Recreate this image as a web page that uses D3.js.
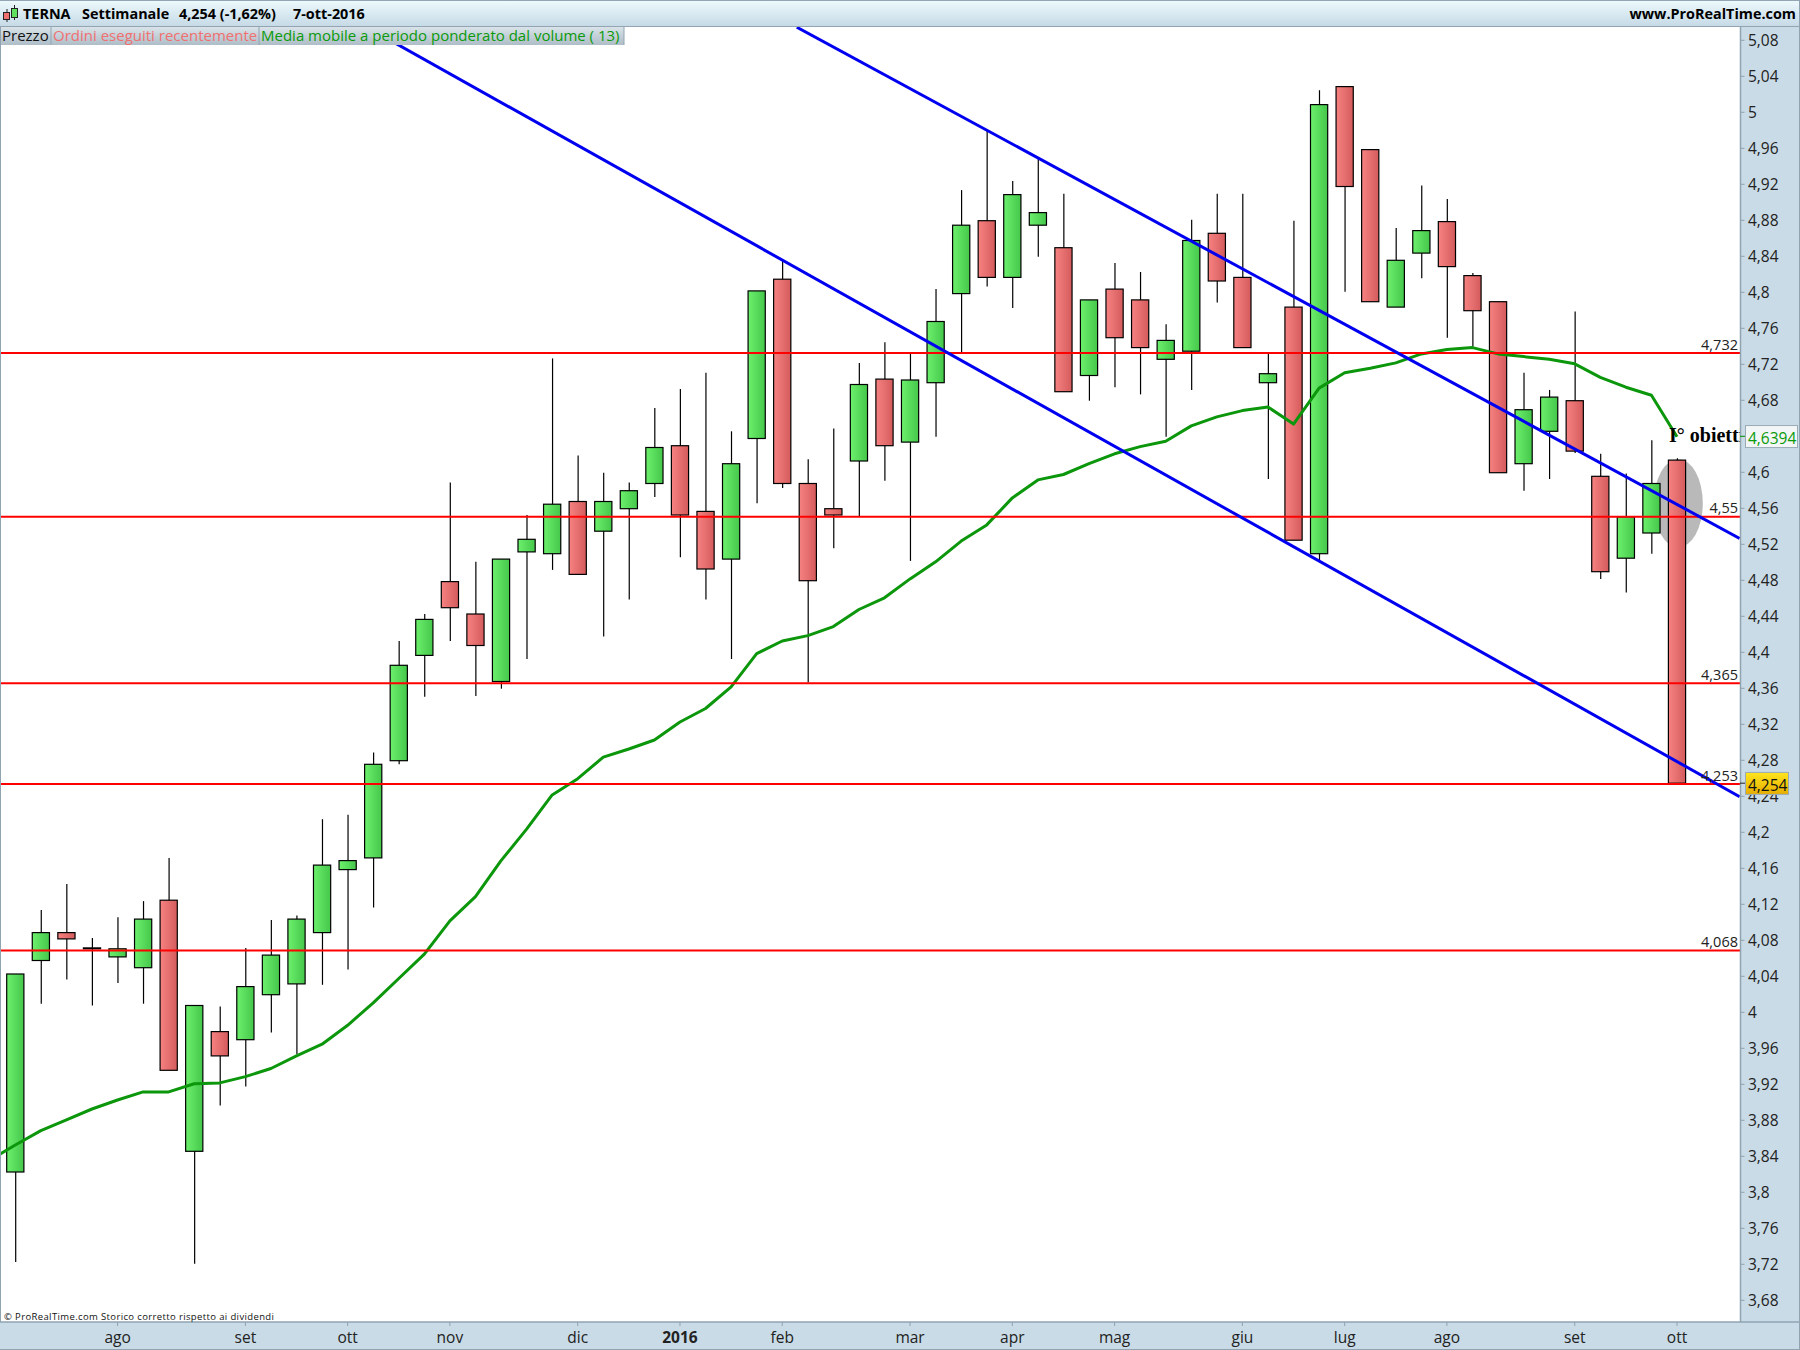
<!DOCTYPE html>
<html><head><meta charset="utf-8">
<script src="https://cdn.jsdelivr.net/npm/d3@7/dist/d3.min.js"></script>
<style>html,body{margin:0;padding:0;background:#fff}svg{display:block}</style>
</head><body><div id="c"></div>
<script>
const opens =[3.822,4.057,4.088,4.071,4.061,4.049,4.124,3.845,3.978,3.969,4.019,4.031,4.088,4.158,4.171,4.279,4.396,4.478,4.442,4.367,4.511,4.509,4.567,4.534,4.559,4.587,4.629,4.556,4.503,4.637,4.814,4.587,4.559,4.612,4.703,4.633,4.699,4.798,4.879,4.816,4.874,4.849,4.707,4.803,4.791,4.725,4.734,4.865,4.816,4.699,4.783,4.509,5.028,4.958,4.783,4.843,4.878,4.818,4.789,4.609,4.645,4.679,4.595,4.504,4.532,4.613];
const closes=[4.042,4.088,4.081,4.070,4.070,4.103,3.935,4.007,3.951,4.028,4.063,4.103,4.163,4.168,4.275,4.385,4.436,4.449,4.407,4.503,4.525,4.564,4.486,4.567,4.579,4.627,4.552,4.492,4.609,4.801,4.587,4.479,4.552,4.697,4.629,4.702,4.767,4.874,4.816,4.908,4.888,4.689,4.791,4.749,4.738,4.746,4.857,4.812,4.738,4.709,4.524,5.008,4.917,4.789,4.835,4.868,4.828,4.779,4.599,4.669,4.683,4.623,4.489,4.550,4.587,4.254];
const highs =[4.042,4.113,4.142,4.082,4.105,4.123,4.171,4.007,4.006,4.071,4.102,4.107,4.214,4.219,4.288,4.412,4.442,4.588,4.500,4.503,4.552,4.726,4.618,4.599,4.588,4.671,4.692,4.710,4.645,4.801,4.835,4.614,4.648,4.721,4.744,4.732,4.803,4.913,4.980,4.923,4.948,4.909,4.791,4.832,4.822,4.764,4.880,4.909,4.909,4.731,4.879,5.024,5.028,4.958,4.871,4.918,4.903,4.821,4.789,4.710,4.691,4.778,4.620,4.598,4.635,4.615];
const lows  =[3.722,4.009,4.036,4.007,4.032,4.009,3.935,3.720,3.896,3.917,3.977,3.953,4.030,4.047,4.116,4.275,4.350,4.412,4.351,4.359,4.392,4.491,4.486,4.417,4.458,4.572,4.505,4.458,4.392,4.565,4.582,4.366,4.515,4.550,4.590,4.501,4.639,4.732,4.806,4.782,4.839,4.689,4.679,4.694,4.686,4.639,4.691,4.788,4.738,4.592,4.524,4.502,4.800,4.789,4.783,4.815,4.749,4.739,4.599,4.579,4.592,4.621,4.481,4.466,4.509,4.254];
// volume weighted average, one value per candle; the first entry belongs to the week before the first candle
const vwma  =[3.835,3.852,3.868,3.880,3.892,3.902,3.911,3.911,3.920,3.921,3.928,3.937,3.951,3.964,3.985,4.010,4.037,4.064,4.101,4.128,4.168,4.203,4.241,4.259,4.283,4.292,4.302,4.322,4.337,4.361,4.398,4.412,4.418,4.428,4.447,4.460,4.481,4.500,4.523,4.541,4.571,4.591,4.597,4.609,4.620,4.628,4.634,4.651,4.661,4.668,4.672,4.653,4.693,4.710,4.715,4.721,4.731,4.736,4.738,4.731,4.728,4.725,4.720,4.705,4.694,4.685,4.639];
const levels=[4.732,4.55,4.365,4.253,4.068];
const levelLabels=["4,732","4,55","4,365","4,253","4,068"];
const trendA=[[13.75,5.094],[67.45,4.239]];
const trendB=[[30.57,5.094],[67.45,4.526]];
const priceTicks=[5.08,5.04,5,4.96,4.92,4.88,4.84,4.8,4.76,4.72,4.68,4.64,4.6,4.56,4.52,4.48,4.44,4.4,4.36,4.32,4.28,4.24,4.2,4.16,4.12,4.08,4.04,4,3.96,3.92,3.88,3.84,3.8,3.76,3.72,3.68];
const monthIdx=[4,9,13,17,22,26,30,35,39,43,48,52,56,61,65];
const monthLabels=["ago","set","ott","nov","dic","2016","feb","mar","apr","mag","giu","lug","ago","set","ott"];
const headTitle=["TERNA","Settimanale","4,254 (-1,62%)","7-ott-2016"];
const legendItems=["Prezzo","Ordini eseguiti recentemente","Media mobile a periodo ponderato dal volume ( 13)"];

const W=1800,H=1350,L=1,R=1740,T=27,B=1322;
const FONT='"Open Sans","Noto Sans",sans-serif';
const svg=d3.select("#c").append("svg").attr("width",W).attr("height",H).attr("font-family",FONT);
const x=d3.scaleLinear().domain([0,65]).range([15.3,1677]);
const y=d3.scaleLinear().domain([3.68,5.08]).range([1299.8,39.8]);
const defs=svg.append("defs");
function grad(id,a,b,vert){const g=defs.append("linearGradient").attr("id",id);
 if(vert){g.attr("x1",0).attr("y1",0).attr("x2",0).attr("y2",1);}
 g.append("stop").attr("offset","0%").attr("stop-color",a);
 g.append("stop").attr("offset","100%").attr("stop-color",b);}
grad("gUp","#6cf06c","#45c74b");grad("gDn","#f78282","#d45b5b");
grad("gHead","#eefafd","#c6dae6",true);grad("gLeg","#d9e3e9","#aebdc7",true);grad("gYel","#ffe61e","#e6ad00",true);
defs.append("clipPath").attr("id","plot").append("rect").attr("x",L).attr("y",T).attr("width",R-L).attr("height",B-T);

svg.append("rect").attr("width",W).attr("height",H).attr("fill","#fff");
const plot=svg.append("g").attr("clip-path","url(#plot)");

// target ellipse
plot.append("ellipse").attr("cx",x(65)+1.3).attr("cy",y(4.565)).attr("rx",24.5).attr("ry",y(4.516)-y(4.565)).attr("fill","#b9b9b9");

// candles
const idx=d3.range(opens.length);
const bw=17.2;
const cg=plot.append("g");
cg.selectAll("line.w").data(idx).join("line").attr("class","w")
 .attr("x1",i=>x(i)+.4).attr("x2",i=>x(i)+.4).attr("y1",i=>y(highs[i])).attr("y2",i=>y(lows[i]))
 .attr("stroke","#000").attr("stroke-width",1.2);
cg.selectAll("rect.b").data(idx).join("rect").attr("class","b")
 .attr("x",i=>x(i)-bw/2).attr("width",bw)
 .attr("y",i=>y(Math.max(opens[i],closes[i])))
 .attr("height",i=>Math.max(.6,Math.abs(y(opens[i])-y(closes[i]))))
 .attr("fill",i=>closes[i]>=opens[i]?"url(#gUp)":"url(#gDn)")
 .attr("stroke","#000").attr("stroke-width",1.2);

// moving average
plot.append("path").attr("fill","none").attr("stroke","#0b960b").attr("stroke-width",3).attr("stroke-linejoin","round")
 .attr("d",d3.line().x((d,i)=>x(i-1)).y(d=>y(d))(vwma));

// levels
plot.selectAll("line.lev").data(levels).join("line").attr("class","lev")
 .attr("x1",L).attr("x2",R).attr("y1",d=>y(d)).attr("y2",d=>y(d)).attr("stroke","#ff0000").attr("stroke-width",2);

// trend lines
const tl=d3.line().x(d=>x(d[0])).y(d=>y(d[1]));
plot.selectAll("path.tr").data([trendA,trendB]).join("path").attr("class","tr").attr("fill","none")
 .attr("stroke","#0000f0").attr("stroke-width",3).attr("d",tl);

plot.selectAll("text.lev").data(levels).join("text").attr("class","lev")
 .attr("x",R-2).attr("y",d=>y(d)-3.5).attr("text-anchor","end").attr("font-size",14.5).attr("fill","#222")
 .text((d,i)=>levelLabels[i]);
plot.append("text").attr("x",1669).attr("y",441.5).attr("font-family",'"Liberation Serif",serif').attr("font-weight","bold").attr("font-size",20).attr("fill","#000").text("I° obiettivo");

// legend
const legX=[0,51,259,624];
const leg=svg.append("g");
leg.append("rect").attr("x",0).attr("y",T).attr("width",624).attr("height",18).attr("fill","url(#gLeg)");
leg.selectAll("line").data(legX.slice(1)).join("line").attr("x1",d=>d).attr("x2",d=>d).attr("y1",T).attr("y2",T+18).attr("stroke","#93a5b2");
const legCol=["#111","#f07070","#0a9a0a"];
leg.selectAll("text").data(legendItems).join("text").attr("x",(d,i)=>legX[i]+2).attr("y",41).attr("font-size",15).attr("fill",(d,i)=>legCol[i]).text(d=>d);

// header
svg.append("rect").attr("x",0).attr("y",0).attr("width",W).attr("height",26).attr("fill","url(#gHead)");
svg.append("line").attr("x1",0).attr("x2",W).attr("y1",26.5).attr("y2",26.5).attr("stroke","#93a5b2");
svg.append("line").attr("x1",0).attr("x2",W).attr("y1",.5).attr("y2",.5).attr("stroke","#93a5b2");
const icon=svg.append("g").attr("stroke","#222").attr("stroke-width",1);
icon.append("line").attr("x1",7).attr("x2",7).attr("y1",9).attr("y2",22);
icon.append("rect").attr("x",3.5).attr("y",12.5).attr("width",6).attr("height",7).attr("fill","#f07070");
icon.append("line").attr("x1",14.5).attr("x2",14.5).attr("y1",5).attr("y2",20);
icon.append("rect").attr("x",11.5).attr("y",8.5).attr("width",6).attr("height",9).attr("fill","#5fe05f");
const headX=[23,82,179,293];
svg.selectAll("text.h").data(headTitle).join("text").attr("class","h").attr("x",(d,i)=>headX[i]).attr("y",18.5)
 .attr("font-size",14.4).attr("font-weight","bold").attr("fill","#000").text(d=>d);
svg.append("text").attr("x",1796).attr("y",18.5).attr("text-anchor","end").attr("font-size",14.4).attr("font-weight","bold").attr("fill","#000").text("www.ProRealTime.com");

// price axis
svg.append("rect").attr("x",R).attr("y",T).attr("width",W-R).attr("height",B-T).attr("fill","#c9dbe6");
const yAxis=d3.axisRight(y).tickValues(priceTicks).tickSize(4).tickPadding(3.5).tickFormat(d=>d3.format(".2f")(d).replace(/\.?0+$/,"").replace(".",","));
const gy=svg.append("g").attr("transform",`translate(${R+.5},0)`).call(yAxis);
gy.select(".domain").attr("stroke","#8fa3b0").attr("d",`M0,${T}V${B}`).attr("stroke-width",1.5);
gy.selectAll(".tick line").attr("stroke","#8fa3b0");
gy.selectAll(".tick text").attr("font-size",15.5).attr("font-family",FONT).attr("fill","#222").attr("dy","0.39em");

// time axis
svg.append("rect").attr("x",0).attr("y",B).attr("width",W).attr("height",H-B).attr("fill","#c9dbe6");
const xAxis=d3.axisBottom(x).tickValues(monthIdx).tickSize(4).tickPadding(6).tickFormat(d=>monthLabels[monthIdx.indexOf(d)]);
const gx=svg.append("g").attr("transform",`translate(-0.5,${B})`).call(xAxis);
gx.select(".domain").attr("stroke","#8fa3b0").attr("d",`M0,0H${W+1}`).attr("stroke-width",1.5);
gx.selectAll(".tick line").attr("stroke","#8fa3b0");
gx.selectAll(".tick text").attr("font-size",15.5).attr("font-family",FONT).attr("fill","#222")
 .attr("font-weight",d=>monthLabels[monthIdx.indexOf(d)]==="2016"?"bold":"normal");
svg.append("line").attr("x1",0).attr("x2",W).attr("y1",1349.5).attr("y2",1349.5).attr("stroke","#8fa3b0");
svg.append("line").attr("x1",.5).attr("x2",.5).attr("y1",T).attr("y2",B).attr("stroke","#8fa3b0");
svg.append("line").attr("x1",W-.5).attr("x2",W-.5).attr("y1",0).attr("y2",H).attr("stroke","#8fa3b0");

// copyright
svg.append("text").attr("x",4).attr("y",1320).attr("font-size",9.5).attr("fill","#111").attr("letter-spacing",.37).text("© ProRealTime.com  Storico corretto rispetto ai dividendi");

// value tags
function tag(v,txt,x0,w,fill,col){
 const cy=y(v);
 svg.append("rect").attr("x",x0+.5).attr("y",cy-10.8).attr("width",w).attr("height",22).attr("fill",fill).attr("stroke","#9aabb5").attr("stroke-width",1);
 svg.append("text").attr("x",x0+3).attr("y",cy+8).attr("font-size",15.5).attr("fill",col).text(txt);
}
svg.append("line").attr("x1",R).attr("x2",R+5).attr("y1",y(closes[65])).attr("y2",y(closes[65])).attr("stroke","#222");
svg.append("line").attr("x1",R).attr("x2",R+5).attr("y1",y(4.6394)).attr("y2",y(4.6394)).attr("stroke","#0a9a0a");
tag(4.6394,"4,6394",1745,52,"#f3f6f6","#0a9a0a");
tag(closes[65],"4,254",1745,43,"url(#gYel)","#111");
</script></body></html>
